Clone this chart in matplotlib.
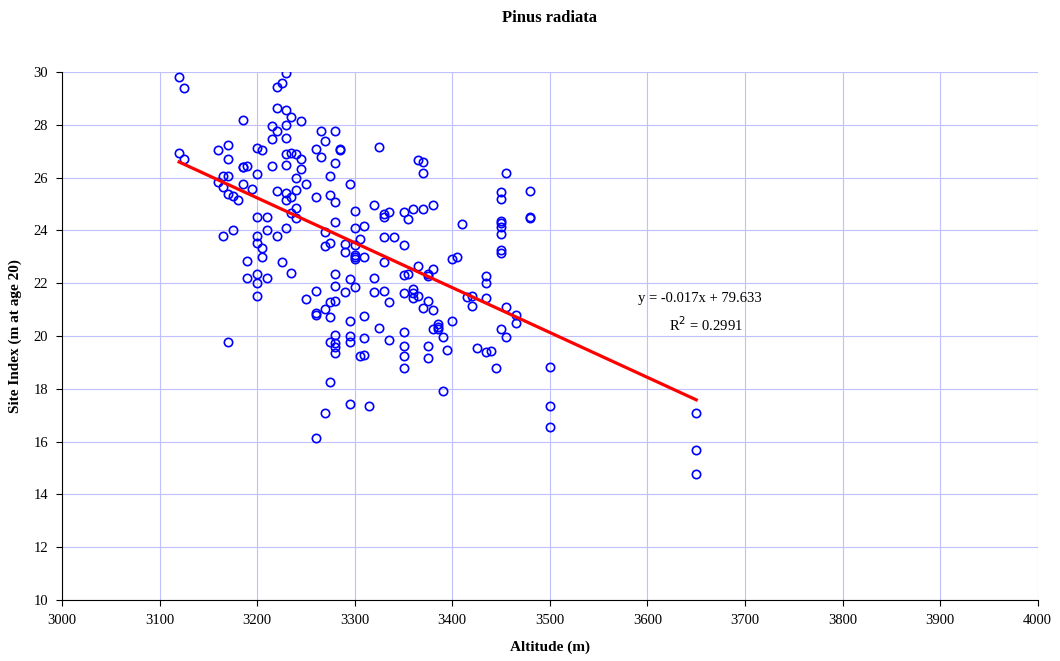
# -*- coding: utf-8 -*-
"""
Pinus radiata: site index vs altitude, with linear trend line
"""
import numpy as np
import matplotlib
matplotlib.use( "Agg" )
import matplotlib.pyplot as plt

# altitude (m) of each plot
altitude = [
    3120, 3125, 3185, 3215, 3220, 3215, 3220, 3220, 3120, 3125,
    3160, 3170, 3170, 3185, 3185, 3190, 3200, 3205, 3215, 3200,
    3165, 3170, 3160, 3165, 3170, 3175, 3180, 3185, 3195, 3220,
    3200, 3210, 3165, 3175, 3200, 3210, 3220, 3200, 3205, 3205,
    3190, 3225, 3190, 3200, 3200, 3210, 3200, 3170, 3230, 3225,
    3230, 3235, 3245, 3230, 3230, 3265, 3280, 3270, 3260, 3265,
    3285, 3285, 3280, 3275, 3295, 3230, 3235, 3240, 3245, 3230,
    3245, 3240, 3250, 3230, 3235, 3240, 3230, 3260, 3275, 3280,
    3230, 3235, 3240, 3240, 3300, 3280, 3270, 3270, 3275, 3300,
    3310, 3305, 3290, 3290, 3300, 3300, 3300, 3300, 3310, 3235,
    3280, 3295, 3280, 3300, 3290, 3260, 3250, 3275, 3280, 3270,
    3260, 3260, 3275, 3295, 3310, 3280, 3295, 3295, 3310, 3275,
    3280, 3280, 3280, 3305, 3310, 3275, 3295, 3315, 3270, 3260,
    3325, 3365, 3370, 3370, 3320, 3330, 3330, 3335, 3350, 3355,
    3360, 3370, 3380, 3330, 3340, 3350, 3330, 3320, 3350, 3355,
    3365, 3375, 3375, 3380, 3400, 3405, 3410, 3435, 3435, 3320,
    3330, 3350, 3360, 3360, 3360, 3365, 3335, 3375, 3370, 3380,
    3415, 3420, 3420, 3435, 3400, 3325, 3350, 3385, 3380, 3385,
    3385, 3390, 3335, 3350, 3375, 3395, 3425, 3435, 3350, 3375,
    3350, 3390, 3455, 3450, 3450, 3480, 3480, 3480, 3450, 3450,
    3450, 3450, 3450, 3450, 3455, 3465, 3465, 3450, 3440, 3455,
    3445, 3500, 3500, 3500, 3650, 3650, 3650,
]

# site index (m at age 20)
site_index = [
    29.81, 29.40, 28.20, 27.95, 27.77, 27.46, 29.43, 28.64, 26.95, 26.70,
    27.05, 27.23, 26.70, 26.40, 26.40, 26.44, 27.12, 27.05, 26.44, 26.14,
    26.06, 26.06, 25.83, 25.64, 25.38, 25.30, 25.15, 25.76, 25.57, 25.49,
    24.50, 24.50, 23.79, 24.00, 23.79, 24.00, 23.80, 23.52, 23.33, 23.00,
    22.84, 22.82, 22.20, 22.35, 22.00, 22.20, 21.50, 19.77, 29.96, 29.58,
    28.56, 28.30, 28.14, 27.99, 27.50, 27.77, 27.77, 27.40, 27.08, 26.80,
    27.10, 27.05, 26.55, 26.06, 25.76, 26.90, 26.93, 26.90, 26.70, 26.48,
    26.33, 26.00, 25.76, 25.42, 25.27, 25.53, 25.15, 25.27, 25.34, 25.08,
    24.09, 24.66, 24.85, 24.47, 24.74, 24.32, 23.94, 23.40, 23.52, 24.10,
    24.17, 23.67, 23.48, 23.20, 23.45, 23.07, 23.00, 22.90, 23.00, 22.39,
    22.35, 22.16, 21.90, 21.86, 21.67, 21.70, 21.40, 21.29, 21.33, 21.02,
    20.87, 20.80, 20.72, 20.57, 20.76, 20.04, 20.00, 19.77, 19.92, 19.77,
    19.73, 19.58, 19.36, 19.24, 19.28, 18.26, 17.42, 17.35, 17.08, 16.14,
    27.16, 26.67, 26.59, 26.17, 24.96, 24.62, 24.50, 24.70, 24.70, 24.43,
    24.80, 24.80, 24.96, 23.75, 23.75, 23.45, 22.80, 22.20, 22.30, 22.35,
    22.65, 22.35, 22.27, 22.54, 22.90, 22.98, 24.24, 22.27, 22.00, 21.67,
    21.70, 21.63, 21.78, 21.63, 21.44, 21.52, 21.29, 21.33, 21.06, 20.98,
    21.48, 21.52, 21.14, 21.44, 20.57, 20.30, 20.15, 20.45, 20.27, 20.34,
    20.27, 19.96, 19.85, 19.62, 19.62, 19.47, 19.55, 19.39, 19.24, 19.17,
    18.79, 17.92, 26.17, 25.45, 25.19, 25.50, 24.50, 24.47, 24.36, 24.28,
    24.13, 23.86, 23.26, 23.14, 21.10, 20.80, 20.50, 20.27, 19.43, 19.96,
    18.79, 18.83, 17.35, 16.55, 17.10, 15.67, 14.77,
]

# trend line as printed on the chart
slope = -0.017
intercept = 79.633
r_squared = 0.2991

plt.rcParams['font.family'] = ['Liberation Serif', 'DejaVu Serif']

fig = plt.figure( figsize=(10.6, 6.61), dpi=100 )
ax = fig.add_axes( [0.0585, 0.0923, 0.9205, 0.7987] )

ax.plot( altitude, site_index, "o", markerfacecolor="none", markeredgecolor="#0000ff",
         markersize=6, markeredgewidth=1.2, zorder=3 )

# linear trend over the range of the data
xs = np.array( [min(altitude), max(altitude)] )
ax.plot( xs, slope*xs + intercept, color="#ff0000", linewidth=2.3, zorder=4 )

ax.text( 3654, 21.44, "y = -0.017x + 79.633", ha="center", va="center", fontsize=10.5 )
ax.text( 3660, 20.42, "R$^2$ = %.4f" % r_squared, ha="center", va="center", fontsize=10.5 )

ax.set_xlim( 3000, 4000 )
ax.set_ylim( 10, 30 )
ax.set_xticks( np.arange(3000, 4001, 100) )
ax.set_yticks( np.arange(10, 31, 2) )
ax.grid( True, color="#c0c0ff", linewidth=0.8 )
ax.set_axisbelow( True )

ax.spines['top'].set_visible( False )
ax.spines['right'].set_visible( False )
ax.tick_params( direction="out", length=4, labelsize=10.5, pad=6 )

ax.set_title( "Pinus radiata", fontsize=12, fontweight="bold", pad=36 )
ax.set_xlabel( "Altitude (m)", fontsize=11, fontweight="bold", labelpad=10 )
ax.set_ylabel( "Site Index (m at age 20)", fontsize=11, fontweight="bold", labelpad=8 )

fig.savefig( "out.png", dpi=100 )
